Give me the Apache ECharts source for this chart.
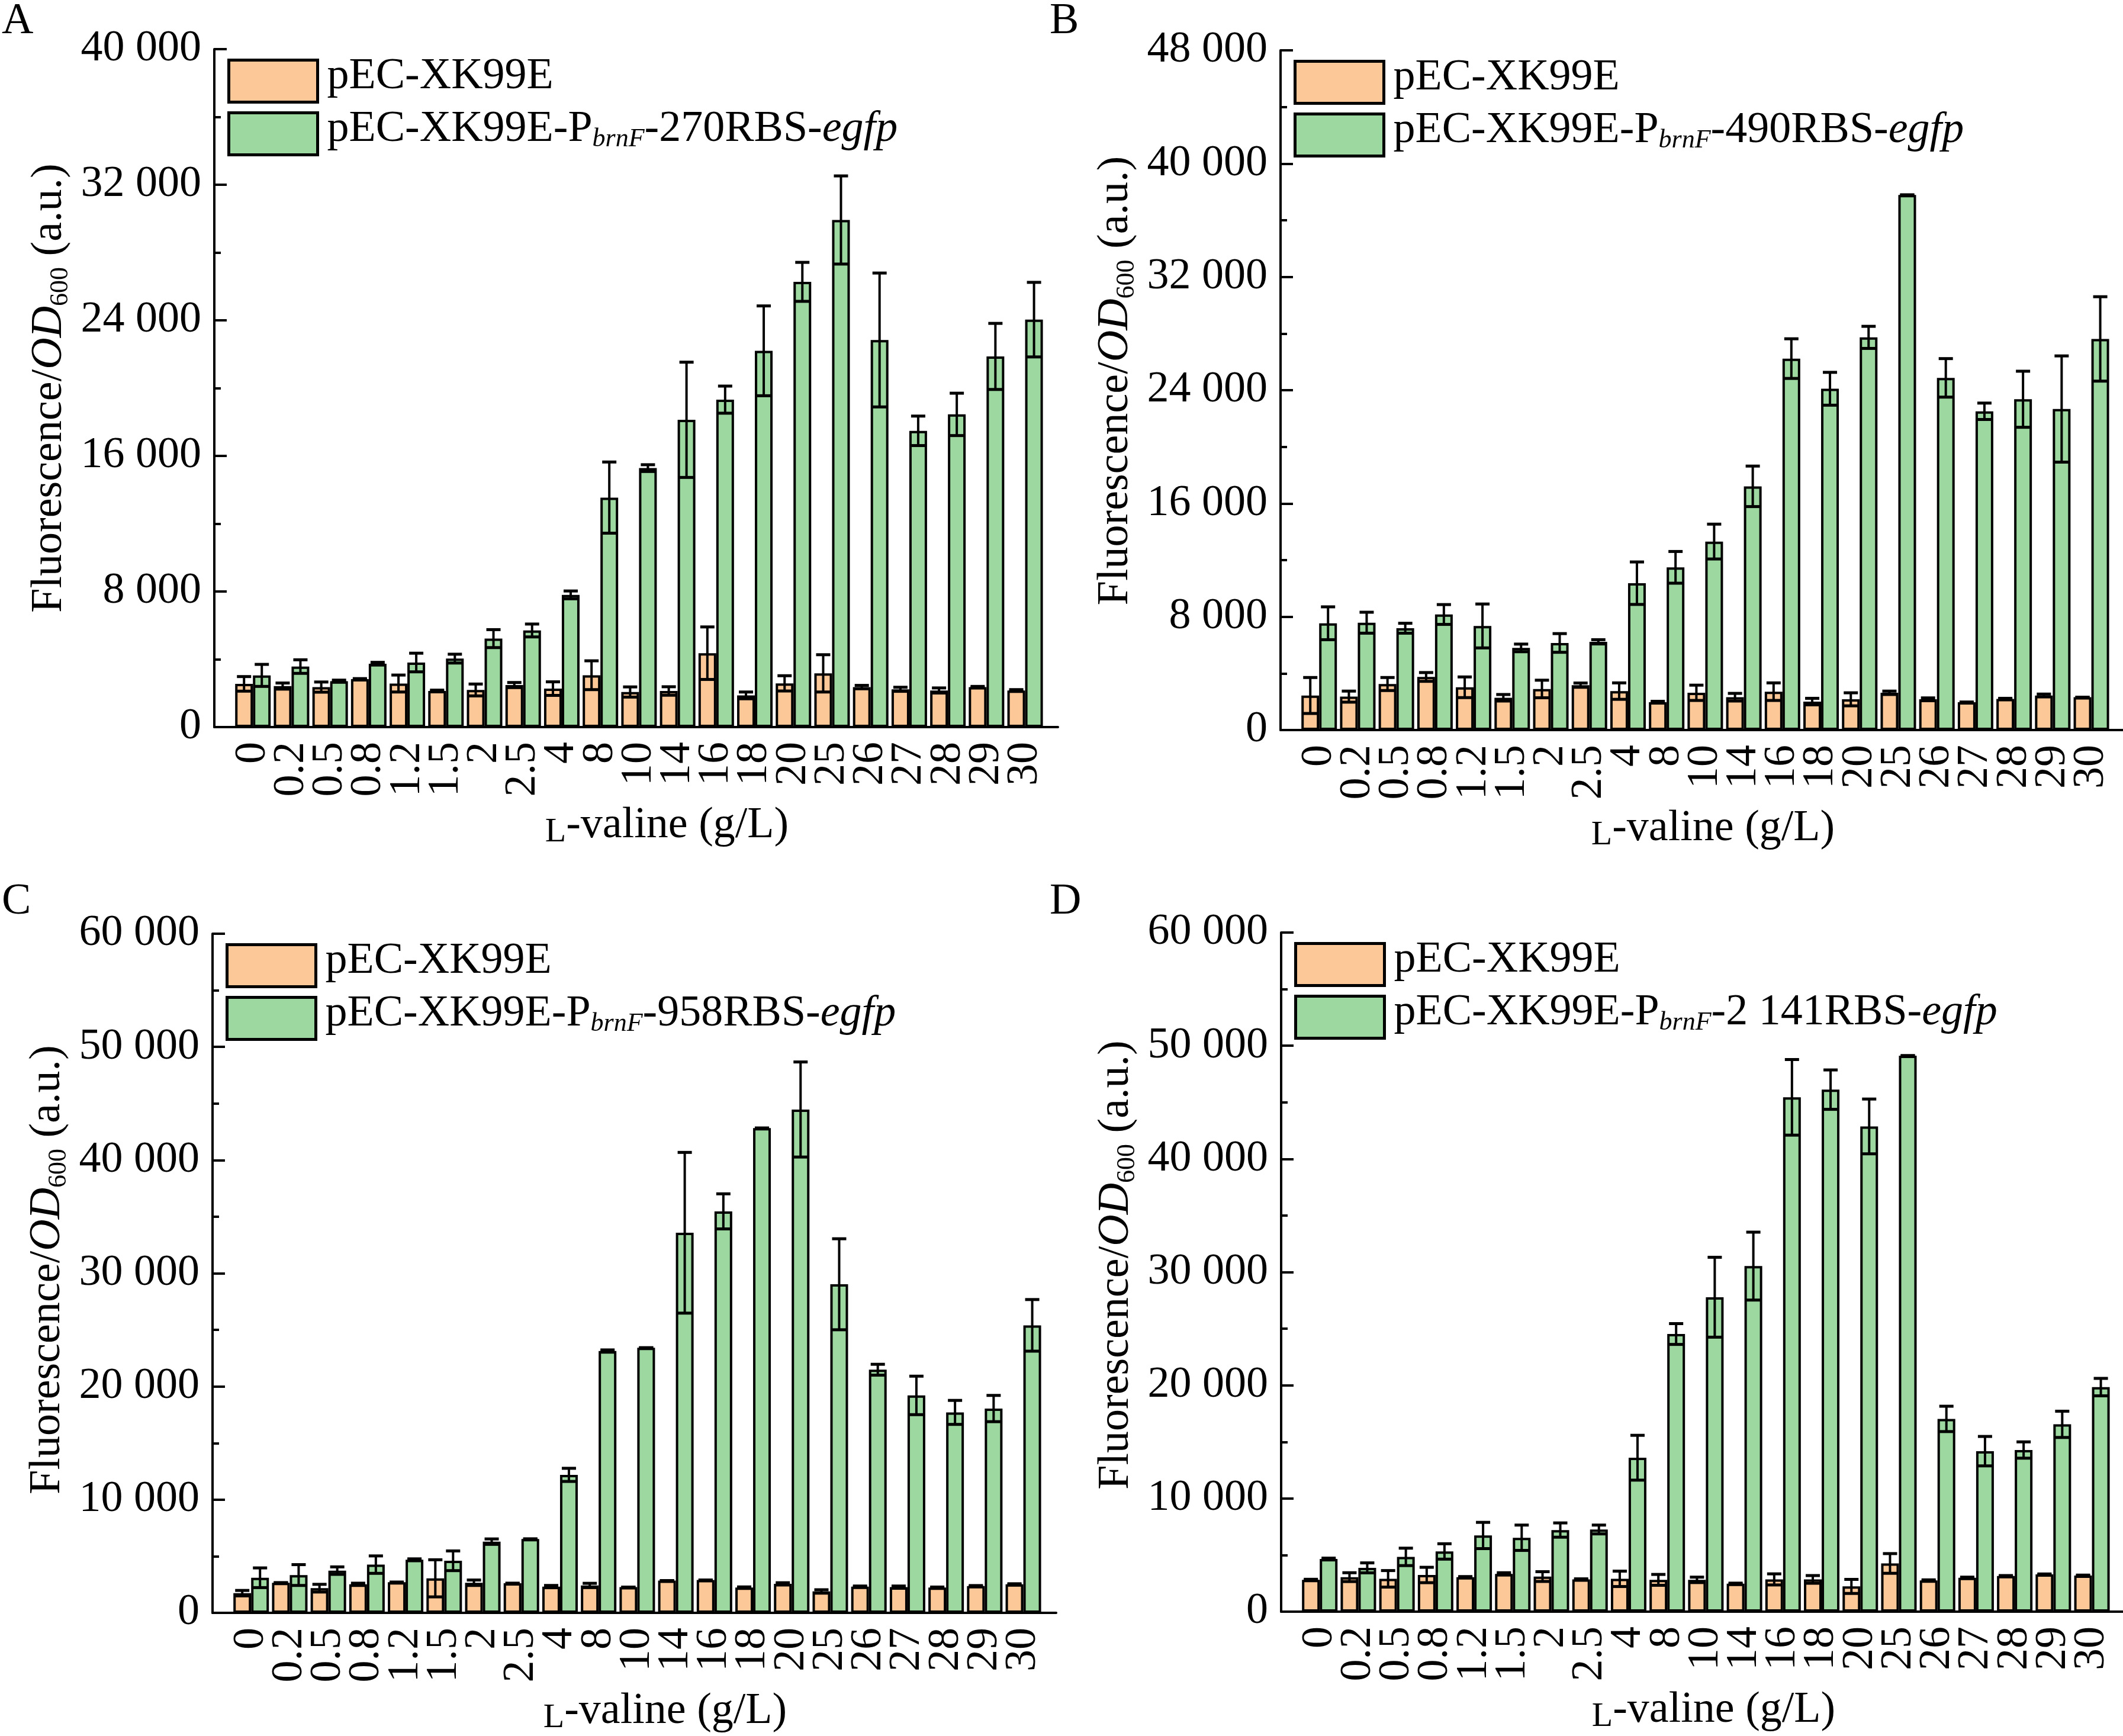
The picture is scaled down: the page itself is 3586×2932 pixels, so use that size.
<!doctype html>
<html><head><meta charset="utf-8">
<style>
  html,body{margin:0;padding:0;background:#ffffff}
  #app{width:3586px;height:2932px}
</style>
<script src="https://cdn.jsdelivr.net/npm/echarts@6/dist/echarts.min.js"></script>
</head><body><div id="app"></div>
<script>
// L-valine concentrations (g/L), shared by all four panels
const categories = ['0','0.2','0.5','0.8','1.2','1.5','2','2.5','4','8','10','14','16','18','20','25','26','27','28','29','30'];

// A: 270RBS
const ctrlA     = [2550,2420,2360,2830,2570,2130,2190,2480,2270,3060,2070,2130,4360,1870,2580,3170,2360,2230,2160,2360,2160];
const ctrlErrA  = [430,180,300,30,500,50,350,150,400,850,300,250,1550,200,450,1100,100,120,150,40,50];
const egfpA     = [3050,3570,2710,3740,3810,4040,5220,5700,7800,13540,15280,18130,19320,22200,26270,29920,22840,17480,18450,21870,24040];
const egfpErrA  = [650,400,60,80,550,260,530,380,230,2100,200,3400,800,2650,1150,2600,3950,870,1250,1950,2200];

// B: 490RBS
const ctrlB     = [2440,2360,3250,3750,3020,2280,2900,3170,2750,1970,2630,2320,2710,2010,2170,2630,2170,1970,2200,2440,2320];
const ctrlErrB  = [1270,390,460,310,730,230,620,150,580,60,540,270,620,230,460,120,100,0,40,100,0];
const egfpB     = [7540,7580,7190,8160,7350,5800,6150,6230,10370,11490,13310,17210,26230,24100,27730,37790,24870,22510,23360,22670,27620];
const egfpErrB  = [1160,740,350,700,1550,270,660,150,1500,1120,1230,1430,1400,1160,780,0,1360,580,1980,3750,2980];

// C: 958RBS
const ctrlC     = [1740,2660,2180,2520,2710,3050,2660,2610,2320,2420,2270,2850,2900,2230,2560,1890,2320,2270,2230,2370,2520];
const ctrlErrC  = [240,0,340,100,0,1640,240,0,100,190,0,0,0,60,100,150,50,100,50,40,50];
const egfpC     = [3100,3340,3730,4260,4690,4600,6290,6530,12190,23130,23420,33580,35470,42830,44470,29030,21480,19210,17710,18050,25400];
const egfpErrC  = [870,920,330,770,80,870,240,0,580,100,0,7100,1550,0,4200,4020,480,1700,1060,1160,2280];

// D: 2 141RBS
const ctrlD     = [2810,3050,2900,3240,3050,3340,3100,2850,2900,2810,2810,2470,2850,2850,2230,4260,2760,3000,3150,3290,3190];
const ctrlErrD  = [50,390,730,680,50,100,430,50,680,480,240,50,490,340,620,870,50,50,40,40,40];
const egfpD     = [4650,3870,4840,5320,6730,6530,7210,7260,13600,24530,27780,30530,45440,46120,42870,49120,17030,14180,14280,16550,19840];
const egfpErrD  = [80,440,770,680,1160,1120,630,390,1980,920,3530,3000,3340,1740,2420,0,1120,1300,720,1160,770];

const panelKeys = ['A','B','C','D'];
const rbsNames  = ['270','490','958','2 141'];
const yMaxes    = [40000, 48000, 60000, 60000];
const ySteps    = [8000, 8000, 10000, 10000];
const ctrlName  = 'pEC-XK99E';

const FONT = 'Liberation Serif';
const ORANGE = '#FCC897', GREEN = '#9DD8A0';

const panels = [
  {grid:{left:362, top:83, width:1425, height:1145},  label:[3,37],     xShift:104, yShift:0,  ctrl:ctrlA, ctrlErr:ctrlErrA, egfp:egfpA, egfpErr:egfpErrA},
  {grid:{left:2163, top:85, width:1425, height:1148}, label:[1773,37],  xShift:36,  yShift:32, ctrl:ctrlB, ctrlErr:ctrlErrB, egfp:egfpB, egfpErr:egfpErrB},
  {grid:{left:359, top:1577, width:1425, height:1147},label:[3,1524],   xShift:104, yShift:12, ctrl:ctrlC, ctrlErr:ctrlErrC, egfp:egfpC, egfpErr:egfpErrC},
  {grid:{left:2164, top:1575, width:1425, height:1147},label:[1773,1524],xShift:36, yShift:24, ctrl:ctrlD, ctrlErr:ctrlErrD, egfp:egfpD, egfpErr:egfpErrD}
];

const thousands = v => String(v).replace(/\B(?=(\d{3})+(?!\d))/g, ' ');

function errorBars(offset){
  return function(params, api){
    const x = api.value(0), v = api.value(1), e = api.value(2);
    const hi = api.coord([x, v + e]);
    const lo = api.coord([x, v - e]);
    const cx = hi[0] + offset, hw = 12;
    const st = {stroke:'#000', lineWidth:4};
    return {type:'group', children:[
      {type:'line', shape:{x1:cx, y1:hi[1], x2:cx, y2:lo[1]}, style:st},
      {type:'line', shape:{x1:cx-hw, y1:hi[1], x2:cx+hw, y2:hi[1]}, style:{stroke:'#000', lineWidth:5}},
      {type:'line', shape:{x1:cx-hw, y1:lo[1], x2:cx+hw, y2:lo[1]}, style:{stroke:'#000', lineWidth:5}}
    ]};
  };
}

const option = {backgroundColor:'#ffffff', animation:false, grid:[], xAxis:[], yAxis:[], legend:[], series:[], graphic:[]};

panels.forEach((p, i) => {
  const egfpName = 'pEC-XK99E-PbrnF-' + rbsNames[i] + 'RBS-egfp';
  option.grid.push(Object.assign({containLabel:false, outerBoundsMode:'none'}, p.grid));

  option.xAxis.push({
    type:'value', gridIndex:i, min:-1, max:20.85, interval:1,
    name:'{sc|L}-valine (g/L)', nameLocation:'middle', nameGap:127, nameMoveOverlap:false,
    nameTextStyle:{fontFamily:FONT, fontSize:74, color:'#000', lineHeight:80, padding:[0,0,0,p.xShift],
      rich:{sc:{fontFamily:FONT, fontSize:58, lineHeight:69, verticalAlign:'bottom', color:'#000'}}},
    axisLine:{onZero:false, lineStyle:{color:'#000', width:4}},
    axisTick:{show:false}, splitLine:{show:false},
    axisLabel:{rotate:90, margin:25, fontFamily:FONT, fontSize:74, color:'#000', hideOverlap:false,
      showMinLabel:true, showMaxLabel:true,
      formatter: v => (Number.isInteger(v) && v >= 0 && v < categories.length) ? categories[v] : ''}
  });

  option.yAxis.push({
    type:'value', gridIndex:i, min:0, max:yMaxes[i], interval:ySteps[i],
    name:'Fluorescence/{it|OD}{sub|600} (a.u.)', nameLocation:'middle', nameGap:238, nameRotate:90, nameMoveOverlap:false,
    nameTextStyle:{fontFamily:FONT, fontSize:74, color:'#000', lineHeight:80, padding:[0,0,0,p.yShift],
      rich:{
        it:{fontFamily:FONT, fontSize:74, fontStyle:'italic', color:'#000', lineHeight:80},
        sub:{fontFamily:FONT, fontSize:44, lineHeight:40, verticalAlign:'bottom', color:'#000'}
      }},
    axisLine:{show:true, onZero:false, lineStyle:{color:'#000', width:4}},
    axisTick:{show:true, inside:true, length:21, lineStyle:{color:'#000', width:4}},
    minorTick:{show:true, splitNumber:2, length:11, lineStyle:{color:'#000', width:4}},
    splitLine:{show:false}, minorSplitLine:{show:false},
    axisLabel:{margin:22, fontFamily:FONT, fontSize:74, color:'#000', formatter:thousands}
  });

  option.legend.push({
    orient:'vertical', left:p.grid.left + 22, top:p.grid.top + 9, padding:0,
    itemGap:-1, itemWidth:150, itemHeight:71, icon:'rect', selectedMode:false,
    data:[ctrlName, egfpName],
    itemStyle:{borderColor:'#000', borderWidth:5},
    textStyle:{fontFamily:FONT, fontSize:74, color:'#000', lineHeight:76, padding:[0,0,14,11],
      rich:{
        sub:{fontFamily:FONT, fontSize:44, fontStyle:'italic', lineHeight:40, verticalAlign:'bottom', color:'#000'},
        it:{fontFamily:FONT, fontSize:74, fontStyle:'italic', lineHeight:76, color:'#000'}
      }},
    formatter: name => name === egfpName ? 'pEC-XK99E-P{sub|brnF}-' + rbsNames[i] + 'RBS-{it|egfp}' : name
  });

  option.series.push(
    {type:'bar', name:ctrlName, xAxisIndex:i, yAxisIndex:i, barWidth:30, barGap:'0%',
     data:p.ctrl.map((v, k) => [k, v]),
     itemStyle:{color:ORANGE, borderColor:'#000', borderWidth:4}},
    {type:'bar', name:egfpName, xAxisIndex:i, yAxisIndex:i, barWidth:30, barGap:'0%',
     data:p.egfp.map((v, k) => [k, v]),
     itemStyle:{color:GREEN, borderColor:'#000', borderWidth:4}},
    {type:'custom', xAxisIndex:i, yAxisIndex:i, z:10, silent:true, clip:false, encode:{x:0, y:1},
     renderItem:errorBars(-15), data:p.ctrl.map((v, k) => [k, v, p.ctrlErr[k]])},
    {type:'custom', xAxisIndex:i, yAxisIndex:i, z:10, silent:true, clip:false, encode:{x:0, y:1},
     renderItem:errorBars(15), data:p.egfp.map((v, k) => [k, v, p.egfpErr[k]])}
  );

  option.graphic.push({type:'text', x:p.label[0], y:p.label[1],
    style:{text:panelKeys[i], fontFamily:FONT, fontSize:74, fill:'#000', align:'left', verticalAlign:'middle', textVerticalAlign:'middle'}});
});

const chart = echarts.init(document.getElementById('app'));
chart.setOption(option);
</script></body></html>
